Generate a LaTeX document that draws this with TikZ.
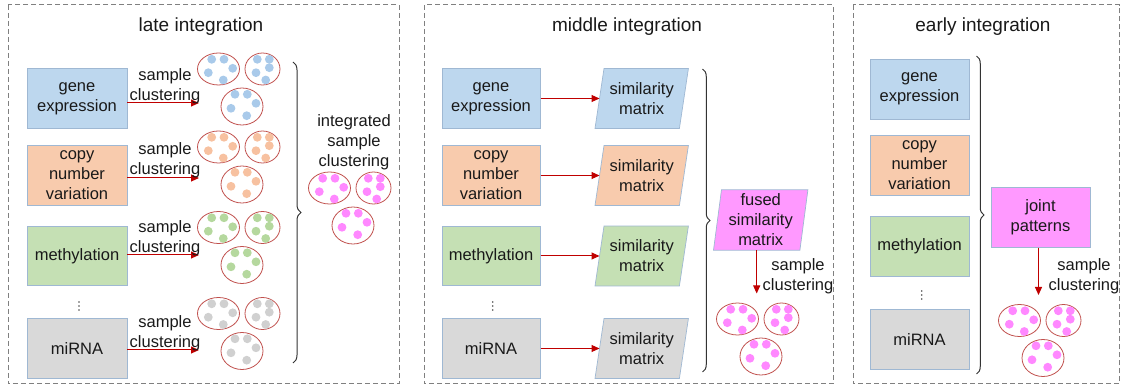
\documentclass[tikz,border=0pt]{standalone}
\usepackage{fontspec}
\setmainfont{Liberation Sans}
\usetikzlibrary{decorations.pathreplacing,backgrounds,arrows.meta}

\definecolor{geneF}{HTML}{BDD7EE}
\definecolor{geneD}{HTML}{A9CAEA}
\definecolor{cnvF}{HTML}{F8CBAD}
\definecolor{cnvD}{HTML}{F7C1A0}
\definecolor{methF}{HTML}{C5E0B4}
\definecolor{methD}{HTML}{B5D89E}
\definecolor{mirF}{HTML}{D9D9D9}
\definecolor{mirD}{HTML}{D0D0D0}
\definecolor{pinkF}{HTML}{FF99FF}
\definecolor{pinkD}{HTML}{FF88FF}
\definecolor{boxline}{HTML}{9FB8D3}
\definecolor{ringred}{HTML}{C0504D}
\definecolor{arrowred}{HTML}{C00000}
\definecolor{panelgray}{HTML}{808080}
\definecolor{bracegray}{HTML}{333333}

% slanted box drawn behind a text node: node name, fill colour, half slant
\newcommand\slantback[3]{%
  \begin{scope}[on background layer]
    \draw[draw=boxline, line width=0.7pt, fill=#2]
      ([xshift=#3]#1.north west) -- ([xshift=#3]#1.north east) --
      ([xshift=-#3]#1.south east) -- ([xshift=-#3]#1.south west) -- cycle;
  \end{scope}}

% three small vertical dots centred at the given point
\newcommand\vdotmark[1]{%
  \foreach \dy in {-4,0,4}
    \fill[black!70] ([yshift=\dy pt]#1) circle [radius=0.9pt];}

\begin{document}
\begin{tikzpicture}[x=1pt, y=-1pt,
  body/.style={font=\fontsize{16.5}{20}\selectfont, text=black!90, align=center},
  title/.style={font=\fontsize{19}{23}\selectfont, text=black!90},
  datbox/.style={body, draw=boxline, line width=0.7pt, minimum height=59.5, inner sep=0},
  slanttext/.style={body, inner sep=0},
  panel/.style={draw=panelgray, line width=1pt, dash pattern=on 5pt off 3pt},
  ring/.style={draw=ringred, line width=0.8pt},
  flow/.style={draw=arrowred, line width=1pt, -{Triangle[length=8pt,width=7pt]}},
  curly/.style={draw=bracegray, line width=1pt, decorate,
    decoration={brace, amplitude=#1}},
  pics/clusterset/.style={code={
    \draw[ring] (0,0) ellipse [x radius=21pt, y radius=16pt];
    \draw[ring] (44,0) ellipse [x radius=17.5pt, y radius=16pt];
    \draw[ring] (23.5,37.5) ellipse [x radius=21pt, y radius=18.5pt];
    \foreach \a/\b in {-6.8/-9.7, 5.5/-9.7, -10.2/3.7, 14.2/-0.7, 4.8/11,
                       38.8/-9.7, 50.8/-9.7, 50.8/-1.3, 37.5/3.7, 47.2/11,
                       16.5/25.3, 28.8/25.3, 37.5/34.3, 12.5/39.3, 28.2/46.7}
      \fill[#1] (\a,\b) circle [radius=4.4pt];
  }}
]
\useasboundingbox (0,0) rectangle (1125,387);

% the three dashed panels
\draw[panel] (8,5) rectangle (399,384);
\draw[panel] (424.3,5) rectangle (833,384);
\draw[panel] (853,5) rectangle (1119.3,384);

\node[title] (t1) at (201,27) {late integration};
\node[title] (t2) at (627,27) {middle integration};
\node[title] (t3) at (983,27) {early integration};

% ---------------- late integration ----------------
\node[datbox, fill=geneF, minimum width=100] (l1) at (77,98.5) {gene\\expression};
\node[datbox, fill=cnvF, minimum width=100] (l2) at (77,175.5) {copy\\number\\variation};
\node[datbox, fill=methF, minimum width=100] (l3) at (77,256) {methylation};
\node[datbox, fill=mirF, minimum width=100] (l4) at (77,348.5) {miRNA};
\coordinate (ld) at (79,306);
\vdotmark{ld}

\coordinate (lc1) at (199,103);
\coordinate (lc2) at (199,178);
\coordinate (lc3) at (199,255);
\coordinate (lc4) at (199,350);
\draw[flow] (l1.east |- lc1) -- (lc1);
\draw[flow] (l2.east |- lc2) -- (lc2);
\draw[flow] (l3.east |- lc3) -- (lc3);
\draw[flow] (l4.east |- lc4) -- (lc4);

\node[body] (ls1) at (165,86) {sample\\clustering};
\node[body] (ls2) at (165,160) {sample\\clustering};
\node[body] (ls3) at (165,238) {sample\\clustering};
\node[body] (ls4) at (165,333) {sample\\clustering};

\pic at (218.5,69) {clusterset=geneD};
\pic at (218.5,147) {clusterset=cnvD};
\pic at (218.5,227.5) {clusterset=methD};
\pic at (218.5,313.5) {clusterset=mirD};

\draw[curly=8pt] (293,62) -- (293,363);
\node[body] (li) at (354,142) {integrated\\sample\\clustering};
\pic at (329.5,188) {clusterset=pinkD};

% ---------------- middle integration ----------------
\node[datbox, fill=geneF, minimum width=98.3] (m1) at (491,98.5) {gene\\expression};
\node[datbox, fill=cnvF, minimum width=98.3] (m2) at (491,175.5) {copy\\number\\variation};
\node[datbox, fill=methF, minimum width=98.3] (m3) at (491,256) {methylation};
\node[datbox, fill=mirF, minimum width=98.3] (m4) at (491,348.5) {miRNA};
\coordinate (md) at (492.7,306);
\vdotmark{md}

\node[slanttext, minimum width=84, minimum height=59.5] (s1) at (641.7,98.5) {similarity\\matrix};
\node[slanttext, minimum width=84, minimum height=59.5] (s2) at (641.7,175.5) {similarity\\matrix};
\node[slanttext, minimum width=84, minimum height=59.5] (s3) at (641.7,256) {similarity\\matrix};
\node[slanttext, minimum width=84, minimum height=59.5] (s4) at (641.7,348.5) {similarity\\matrix};
\slantback{s1}{geneF}{4.5}
\slantback{s2}{cnvF}{4.5}
\slantback{s3}{methF}{4.5}
\slantback{s4}{mirF}{4.5}

\draw[flow] (m1) -- (s1);
\draw[flow] (m2) -- (s2);
\draw[flow] (m3) -- (s3);
\draw[flow] (m4) -- (s4);

\draw[curly=7.5pt] (702.5,69) -- (702.5,372);

\node[slanttext, minimum width=86, minimum height=60] (fz) at (760.7,220) {fused\\similarity\\matrix};
\slantback{fz}{pinkF}{4}
\coordinate (fa) at (756.7,293.5);
\draw[flow] (fz.south -| fa) -- (fa);
\node[body] (fl) at (798,276) {sample\\clustering};
\pic at (737.5,319) {clusterset=pinkD};

% ---------------- early integration ----------------
\node[datbox, fill=geneF, minimum width=99] (e1) at (919.5,89.2) {gene\\expression};
\node[datbox, fill=cnvF, minimum width=99] (e2) at (919.5,165.3) {copy\\number\\variation};
\node[datbox, fill=methF, minimum width=99] (e3) at (919.5,246.3) {methylation};
\node[datbox, fill=mirF, minimum width=99] (e4) at (919.5,339.2) {miRNA};
\coordinate (ed) at (921.7,295);
\vdotmark{ed}

\draw[curly=7.5pt] (976.5,56) -- (976.5,374);

\node[datbox, fill=pinkF, minimum width=99] (jp) at (1040.5,217.5) {joint\\patterns};
\coordinate (ja) at (1038.5,295);
\draw[flow] (jp.south -| ja) -- (ja);
\node[body] (jl) at (1084,276) {sample\\clustering};
\pic at (1019.5,320.5) {clusterset=pinkD};

\end{tikzpicture}
\end{document}
